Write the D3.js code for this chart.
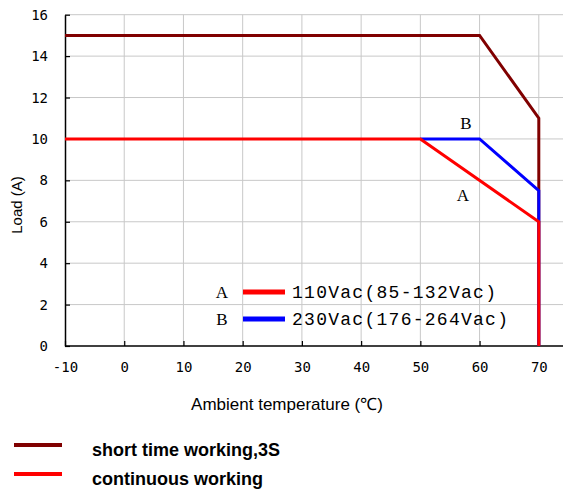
<!DOCTYPE html>
<html>
<head>
<meta charset="utf-8">
<script src="https://cdn.jsdelivr.net/npm/d3@7"></script>
<style>
  body { margin: 0; background: #fff; }
  .axis path, .axis line { stroke: #000; }
  .grid line { stroke: #c8c8c8; }
  .tick text { font-family: "DejaVu Sans Mono", monospace; font-size: 14px; fill: #000; }
</style>
</head>
<body>
<div id="chart"></div>
<script>
// derating curves, temperature in C, load in A
var shortTime = [[-10, 15], [60, 15], [70, 11], [70, 0]];
var curveB = [[50, 10], [60, 10], [70, 7.5], [70, 0]];
var curveA = [[-10, 10], [50, 10], [70, 6], [70, 0]];
var xTicks = [-10, 0, 10, 20, 30, 40, 50, 60, 70];
var yTicks = [0, 2, 4, 6, 8, 10, 12, 14, 16];
var innerLegend = [
  {key: "A", label: "110Vac(85-132Vac)", color: "#ff0000"},
  {key: "B", label: "230Vac(176-264Vac)", color: "#0000ff"}
];
var outerLegend = [
  {label: "short time working,3S", color: "#800000"},
  {label: "continuous working", color: "#ff0000"}
];

var width = 564;
var height = 489;

var svg = d3.select("#chart").append("svg")
  .attr("width", width)
  .attr("height", height);

var x = d3.scaleLinear().domain([-10, 70]).range([65, 538.8]);
var y = d3.scaleLinear().domain([0, 16]).range([346, 14.7]);
var right = 563;

// grid
var grid = svg.append("g").classed("grid", true);
grid.selectAll(".gx").data(xTicks.slice(1)).enter().append("line")
  .attr("x1", function(d) { return x(d); })
  .attr("x2", function(d) { return x(d); })
  .attr("y1", y(16)).attr("y2", y(0));
grid.selectAll(".gy").data(yTicks.slice(1)).enter().append("line")
  .attr("x1", x(-10)).attr("x2", right)
  .attr("y1", function(d) { return y(d); })
  .attr("y2", function(d) { return y(d); });

// axes
var xAxis = d3.axisBottom(x).tickValues(xTicks).tickFormat(String)
  .tickSizeInner(-5).tickSizeOuter(0).tickPadding(16);
var yAxis = d3.axisLeft(y).tickValues(yTicks).tickFormat(String)
  .tickSizeInner(-5).tickSizeOuter(0).tickPadding(17);

var gx = svg.append("g").classed("axis", true)
  .attr("transform", "translate(0," + y(0) + ")")
  .call(xAxis);
gx.select(".domain").attr("d", "M" + x(-10) + ",0H" + right).attr("stroke-width", 1.5);
gx.selectAll(".tick line").attr("stroke-width", 1.2);

var gy = svg.append("g").classed("axis", true)
  .attr("transform", "translate(" + x(-10) + ",0)")
  .call(yAxis);
gy.select(".domain").attr("stroke-width", 1.5);
gy.selectAll(".tick line").attr("stroke-width", 1.2);

// curves
var line = d3.line()
  .x(function(d) { return x(d[0]); })
  .y(function(d) { return y(d[1]); });

[[shortTime, "#800000"], [curveB, "#0000ff"], [curveA, "#ff0000"]].forEach(function(c) {
  svg.append("path")
    .datum(c[0])
    .attr("d", line)
    .attr("fill", "none")
    .attr("stroke", c[1])
    .attr("stroke-width", 3);
});

var serif = "'Liberation Serif', 'DejaVu Serif', serif";
svg.append("text").attr("x", 466).attr("y", 129).attr("text-anchor", "middle")
  .style("font-family", serif).style("font-size", "17px").text("B");
svg.append("text").attr("x", 463).attr("y", 201).attr("text-anchor", "middle")
  .style("font-family", serif).style("font-size", "17px").text("A");

// inner legend
var leg = svg.selectAll(".leg").data(innerLegend).enter().append("g")
  .attr("transform", function(d, i) { return "translate(0," + (i * 27) + ")"; });
leg.append("text").attr("x", 222).attr("y", 298).attr("text-anchor", "middle")
  .style("font-family", serif).style("font-size", "17px")
  .text(function(d) { return d.key; });
leg.append("line").attr("x1", 243).attr("x2", 285).attr("y1", 292).attr("y2", 292)
  .attr("stroke", function(d) { return d.color; }).attr("stroke-width", 5);
leg.append("text").attr("x", 292).attr("y", 298)
  .attr("textLength", function(d) { return d.label.length * 12; })
  .style("font-family", "'Liberation Mono', 'DejaVu Sans Mono', monospace").style("font-size", "18px")
  .text(function(d) { return d.label; });

// axis titles
svg.append("text").attr("x", 287).attr("y", 410).attr("text-anchor", "middle")
  .style("font-family", "'Liberation Sans', Arial, sans-serif").style("font-size", "17px")
  .text("Ambient temperature (℃)");
svg.append("text").attr("transform", "translate(22,205) rotate(-90)").attr("text-anchor", "middle")
  .style("font-family", "'Liberation Sans', Arial, sans-serif").style("font-size", "15px")
  .text("Load (A)");

// bottom legend
var leg2 = svg.selectAll(".leg2").data(outerLegend).enter().append("g")
  .attr("transform", function(d, i) { return "translate(0," + (i * 29) + ")"; });
leg2.append("line").attr("x1", 14).attr("x2", 62).attr("y1", 445).attr("y2", 445)
  .attr("stroke", function(d) { return d.color; }).attr("stroke-width", 4);
leg2.append("text").attr("x", 92).attr("y", 456)
  .style("font-family", "'Liberation Sans', Arial, sans-serif").style("font-size", "18px")
  .style("font-weight", "bold")
  .text(function(d) { return d.label; });
</script>
</body>
</html>
